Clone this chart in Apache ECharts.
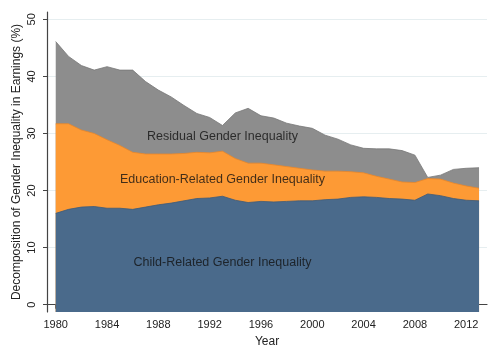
<!DOCTYPE html>
<html>
<head>
<meta charset="utf-8">
<script src="https://cdn.jsdelivr.net/npm/echarts@6/dist/echarts.min.js"></script>
<style>html,body{margin:0;padding:0;background:#fff}#c{width:496px;height:360px}</style>
</head>
<body>
<div id="c"></div>
<script>
var years = [1980,1981,1982,1983,1984,1985,1986,1987,1988,1989,1990,1991,1992,1993,1994,1995,1996,1997,1998,1999,2000,2001,2002,2003,2004,2005,2006,2007,2008,2009,2010,2011,2012,2013];
var childRelated = [16.0,16.7,17.1,17.2,16.9,16.9,16.7,17.1,17.5,17.8,18.2,18.6,18.7,19.0,18.3,17.9,18.1,18.0,18.1,18.2,18.2,18.4,18.5,18.8,18.9,18.8,18.6,18.5,18.3,19.4,19.1,18.6,18.3,18.2];
var educationRelated = [15.7,15.0,13.5,12.8,12.0,11.0,10.0,9.3,8.9,8.6,8.3,8.1,7.9,7.9,7.3,6.9,6.7,6.5,6.1,5.7,5.4,5.0,4.9,4.5,4.2,3.7,3.4,3.0,3.1,2.7,2.9,2.7,2.5,2.2];
var residual = [14.4,11.8,11.3,11.1,12.8,13.2,14.4,12.7,11.2,10.0,8.4,6.8,6.2,4.5,8.0,9.6,8.3,8.2,7.6,7.4,7.3,6.3,5.6,4.7,4.3,4.8,5.3,5.5,4.8,0.2,0.7,2.4,3.1,3.6];
var xTicks = [1980,1984,1988,1992,1996,2000,2004,2008,2012];
var yTicks = [0,10,20,30,40,50];
var seriesNames = ['Child-Related Gender Inequality','Education-Related Gender Inequality','Residual Gender Inequality'];
var labelPositions = [[1993, 7.4], [1993, 21.85], [1993, 29.4]];

var FONT = 'Liberation Sans, Arial, sans-serif';
// cumulative layers (stacked table built from the component arrays)
var layers = [childRelated, educationRelated, residual];
var cumulative = [];
var running = years.map(function(){ return 0; });
layers.forEach(function(arr){
  running = running.map(function(v,i){ return v + arr[i]; });
  cumulative.push(running.slice());
});
function pairs(vals){ return years.map(function(y,i){ return [y, vals[i]]; }); }
function areaSeries(name, vals, fill, edge, z){
  return {
    name: name, type: 'line', data: pairs(vals),
    symbol: 'none', smooth: false,
    lineStyle: {color: edge, width: 0.8},
    areaStyle: {color: fill, opacity: 1, origin: 'start'},
    emphasis: {disabled: true}, z: z
  };
}
var labelData = seriesNames.map(function(n,i){ return [labelPositions[i][0], labelPositions[i][1], n]; });

var chart = echarts.init(document.getElementById('c'), null, {renderer: 'canvas'});
chart.setOption({
  animation: false,
  backgroundColor: '#ffffff',
  grid: {left: 47, right: 9, top: 12, bottom: 48, containLabel: false},
  xAxis: {
    type: 'value', min: 1979.32, max: 2013.62,
    name: 'Year', nameLocation: 'middle', nameGap: 24, nameMoveOverlap: false,
    nameTextStyle: {fontFamily: FONT, fontSize: 12, color: '#222'},
    axisLine: {show: true, lineStyle: {color: '#444', width: 1.2}},
    axisTick: {show: true, length: 4, customValues: xTicks, lineStyle: {color: '#444'}},
    axisLabel: {customValues: xTicks, margin: 7, fontFamily: FONT, fontSize: 11, color: '#222',
      formatter: function(v){ return String(v); }},
    splitLine: {show: false}
  },
  yAxis: {
    type: 'value', min: -1.28, max: 51.28,
    name: 'Decomposition of Gender Inequality in Earnings (%)',
    nameLocation: 'middle', nameGap: 24, nameRotate: 90, nameMoveOverlap: false,
    nameTextStyle: {fontFamily: FONT, fontSize: 12, color: '#222'},
    axisLine: {show: true, lineStyle: {color: '#444', width: 1.2}},
    axisTick: {show: true, length: 4, customValues: yTicks, lineStyle: {color: '#444'}},
    axisLabel: {customValues: yTicks, rotate: 90, margin: 10, fontFamily: FONT, fontSize: 11, color: '#222'},
    splitLine: {show: true, lineStyle: {color: '#e6eef0', width: 1}}
  },
  series: [
    areaSeries(seriesNames[2], cumulative[2], '#8d8d8d', '#777777', 2),
    areaSeries(seriesNames[1], cumulative[1], '#fd9a35', '#e8862a', 3),
    areaSeries(seriesNames[0], cumulative[0], '#4a6a8b', '#3d5a78', 4),
    {
      type: 'scatter', data: labelData, symbolSize: 1, z: 6,
      itemStyle: {color: 'rgba(0,0,0,0)'},
      label: {show: true, position: 'inside', fontFamily: FONT, fontSize: 12.5, color: '#111',
        formatter: function(p){ return p.data[2]; }},
      emphasis: {disabled: true}, silent: true
    }
  ]
});
</script>
</body>
</html>
